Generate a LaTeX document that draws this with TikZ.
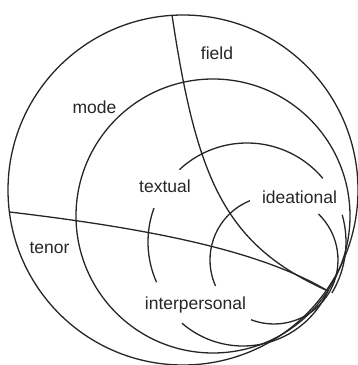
\documentclass[tikz,border=0pt]{standalone}
\usepackage{fontspec}
\setmainfont{Liberation Sans}
\usetikzlibrary{calc}

\begin{document}
\begin{tikzpicture}[
        x=1pt, y=1pt,
        ring/.style={draw=black!85, line width=1.3pt},
        lbl/.style={font=\fontsize{17.5}{20}\selectfont, text=black!85, inner sep=0pt}
    ]
        \useasboundingbox (0,0) rectangle (358,365);

        % Centres and the common touching point
        \coordinate (T) at (328,74);
        \coordinate (c1) at (183,175);
        \coordinate (c2) at (213,149);
        \coordinate (c3) at (247,123);
        \coordinate (c3b) at (243,112);
        \coordinate (c4) at (274,105);

        % Outer circles
        \draw[ring] (c1) circle[radius=175];
        \draw[ring] (c2) circle[radius=137];

        % textual ring (broken for the labels)
        \draw[ring] (c3) ++(133:99) arc[start angle=133, end angle=40, radius=99];
        \draw[ring] (c3) ++(160:99) arc[start angle=160, end angle=204, radius=99];
        \draw[ring] (c3) ++(16:99) arc[start angle=16, end angle=-31, radius=99];
        \draw[ring] (c3b) ++(229:93) arc[start angle=229, end angle=336.5, radius=93];

        % ideational ring
        \draw[ring] (c4) ++(112:64) arc[start angle=112, end angle=204, radius=64];
        \draw[ring] (c4) ++(46:64) arc[start angle=46, end angle=-29, radius=64];
        \draw[ring] (c4) ++(249:64) arc[start angle=249, end angle=331, radius=64];

        % field and tenor
        \coordinate (f0) at (172,350);
        \coordinate (t0) at (9.5,153);
        \draw[ring] (f0) .. controls (196.8,184.8) and (225,120) .. (T);
        \draw[ring] (t0) .. controls (173,133.7) and (267.8,109.7) .. (T);

        % Labels
        \node[lbl] (field) at (217,312) {field};
        \node[lbl] (mode) at (94.5,258) {mode};
        \node[lbl] (textual) at (165,179) {textual};
        \node[lbl] (ideational) at (299.5,168) {ideational};
        \node[lbl] (tenor) at (49.5,117) {tenor};
        \node[lbl] (interpersonal) at (195.5,60) {interpersonal};
\end{tikzpicture}
\end{document}
